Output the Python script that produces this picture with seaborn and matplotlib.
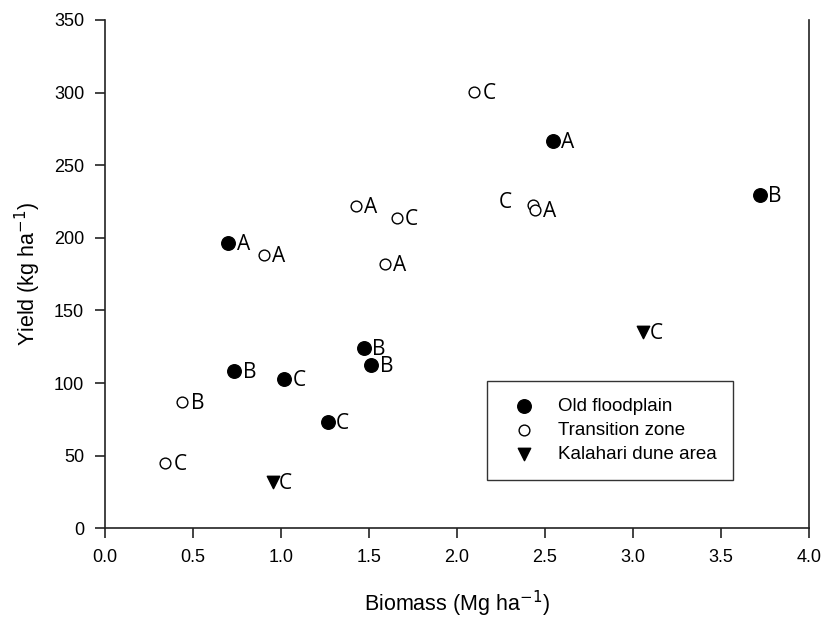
import matplotlib
matplotlib.use("Agg")
import matplotlib.pyplot as plt
import seaborn as sns
import pandas as pd

# Data
floodplain_x = [0.70, 0.735, 1.017, 1.265, 1.472, 1.513, 2.543, 3.722]
floodplain_y = [196.2, 108.5, 103.0, 73.4, 123.9, 112.4, 266.9, 229.3]
floodplain_lbl = ["A", "B", "C", "C", "B", "B", "A", "B"]

transition_x = [0.341, 0.439, 0.903, 1.426, 1.657, 1.591, 2.097, 2.433, 2.443]
transition_y = [44.7, 86.7, 188.0, 221.7, 213.9, 182.0, 300.4, 222.6, 219.2]
transition_lbl = ["C", "B", "A", "A", "C", "A", "C", "C", "A"]

kalahari_x = [0.953, 3.059]
kalahari_y = [32.1, 135.0]
kalahari_lbl = ["C", "C"]

groups = ["Old floodplain", "Transition zone", "Kalahari dune area"]

df = pd.concat([
    pd.DataFrame({"x": floodplain_x, "y": floodplain_y, "lbl": floodplain_lbl, "group": groups[0]}),
    pd.DataFrame({"x": transition_x, "y": transition_y, "lbl": transition_lbl, "group": groups[1]}),
    pd.DataFrame({"x": kalahari_x, "y": kalahari_y, "lbl": kalahari_lbl, "group": groups[2]}),
], ignore_index=True)

sns.set_style("ticks")
plt.rcParams["font.family"] = ["Liberation Sans", "DejaVu Sans"]
plt.rcParams["text.color"] = "black"
plt.rcParams["axes.labelcolor"] = "black"
plt.rcParams["xtick.color"] = "black"
plt.rcParams["ytick.color"] = "black"

fig = plt.figure(figsize=(8.23, 6.19), dpi=100)
ax = fig.add_axes([0.1276, 0.1465, 0.8554, 0.8212])

styles = {
    groups[0]: dict(marker="o", s=95, facecolor="black", edgecolor="black", linewidth=1.0),
    groups[1]: dict(marker="o", s=60, facecolor="white", edgecolor="black", linewidth=1.0),
    groups[2]: dict(marker="v", s=80, facecolor="black", edgecolor="black", linewidth=1.0),
}
offsets = {groups[0]: 6.0, groups[1]: 6.0, groups[2]: 4.5}
for g in groups:
    sub = df[df["group"] == g]
    sns.scatterplot(data=sub, x="x", y="y", ax=ax, label=g, zorder=3, **styles[g])

# point labels
lbl_font = ["Open Sans", "DejaVu Sans"]
for _, r in df.iterrows():
    if r["group"] == groups[1] and abs(r["x"] - 2.433) < 1e-6:
        ax.annotate(r["lbl"], (r["x"], r["y"]), xytext=(-25, 2), textcoords="offset points",
                    fontsize=15, family=lbl_font, va="center", ha="left")
    else:
        ax.annotate(r["lbl"], (r["x"], r["y"]), xytext=(offsets[r["group"]], -1),
                    textcoords="offset points",
                    fontsize=15, family=lbl_font, va="center", ha="left")

ax.set_xlim(0, 4.0)
ax.set_ylim(0, 350)
ax.set_xticks([0, 0.5, 1.0, 1.5, 2.0, 2.5, 3.0, 3.5, 4.0])
ax.set_xticklabels(["0.0", "0.5", "1.0", "1.5", "2.0", "2.5", "3.0", "3.5", "4.0"])
ax.set_yticks(range(0, 351, 50))
ax.tick_params(axis="both", labelsize=13, direction="out", length=7, width=1.2, color="#222222", pad=8)
ax.set_xlabel("Biomass (Mg ha$^{-1}$)", fontsize=15.5, labelpad=16)
ax.set_ylabel("Yield (kg ha$^{-1}$)", fontsize=15.5, labelpad=8)
for sp in ["left", "bottom", "right"]:
    ax.spines[sp].set_linewidth(1.2)
    ax.spines[sp].set_color("#222222")
ax.spines["top"].set_visible(False)
ax.spines["right"].set_visible(True)

leg = ax.legend(loc="upper left", bbox_to_anchor=(0.543, 0.29), frameon=True, fancybox=False,
                fontsize=13.5, handletextpad=0.75, borderpad=0.9, labelspacing=0.37,
                borderaxespad=0, handlelength=2.1)
leg.get_frame().set_edgecolor("black")
leg.get_frame().set_linewidth(1.0)

fig.savefig("out.png", dpi=100)
